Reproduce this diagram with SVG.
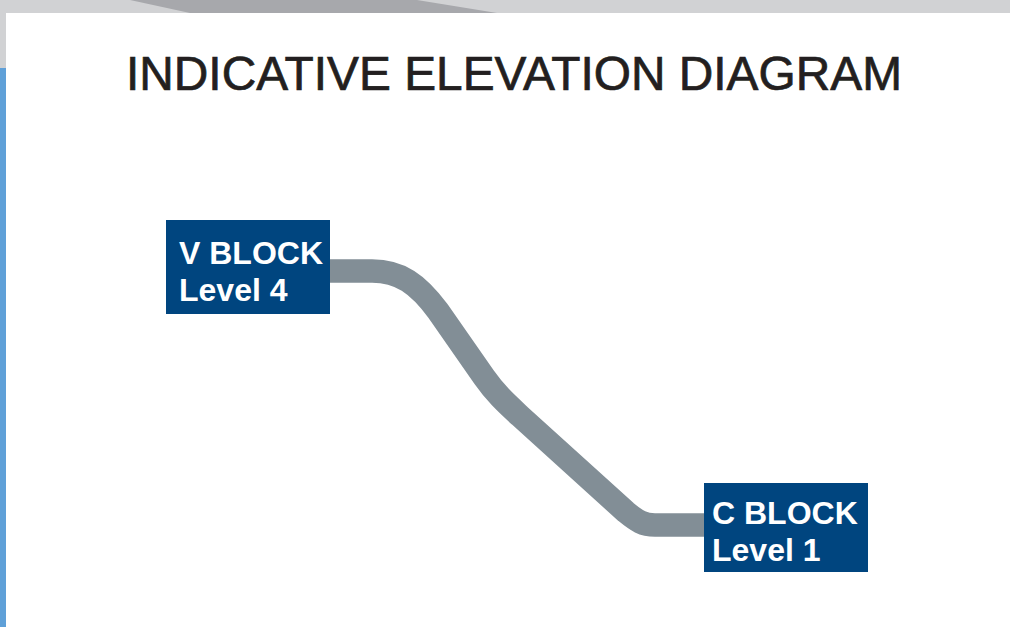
<svg xmlns="http://www.w3.org/2000/svg" width="1010" height="627" viewBox="0 0 1010 627">
  <style>
    .box { fill: #00457f; }
    .lbl { font-family: "Liberation Sans", Arial, sans-serif; font-weight: bold; font-size: 32px; fill: #ffffff; }
    .title { font-family: "Liberation Sans", Arial, sans-serif; font-size: 48px; fill: #231f20; stroke: #231f20; stroke-width: 0.7; }
    .conn { fill: none; stroke: #828e96; stroke-width: 23.5; stroke-linejoin: round; }
  </style>
  <rect x="0" y="0" width="1010" height="627" fill="#d1d2d4"/>
  <polygon points="130,0 417,0 497,13 190,13" fill="#a7a8ac"/>
  <rect x="0" y="68" width="6" height="559" fill="#5fa0d8"/>
  <rect x="6" y="13" width="1004" height="614" fill="#ffffff"/>
  <text class="title" x="126" y="90" textLength="776" lengthAdjust="spacingAndGlyphs">INDICATIVE ELEVATION DIAGRAM</text>
  <g id="connectors">
    <path class="conn" d="M330,271 L372,271 C400,271 418,284 438,311 L484,377 C496,394 506,403 520,416 L626,512 C637,521 643,525 655,525 L704,525"/>
  </g>
  <g id="v-block">
    <rect class="box" x="166" y="220" width="164" height="94"/>
    <text class="lbl" x="179" y="264">V BLOCK</text>
    <text class="lbl" x="179" y="301">Level 4</text>
  </g>
  <g id="c-block">
    <rect class="box" x="704" y="483" width="164" height="89"/>
    <text class="lbl" x="712" y="524">C BLOCK</text>
    <text class="lbl" x="712" y="561">Level 1</text>
  </g>
</svg>
